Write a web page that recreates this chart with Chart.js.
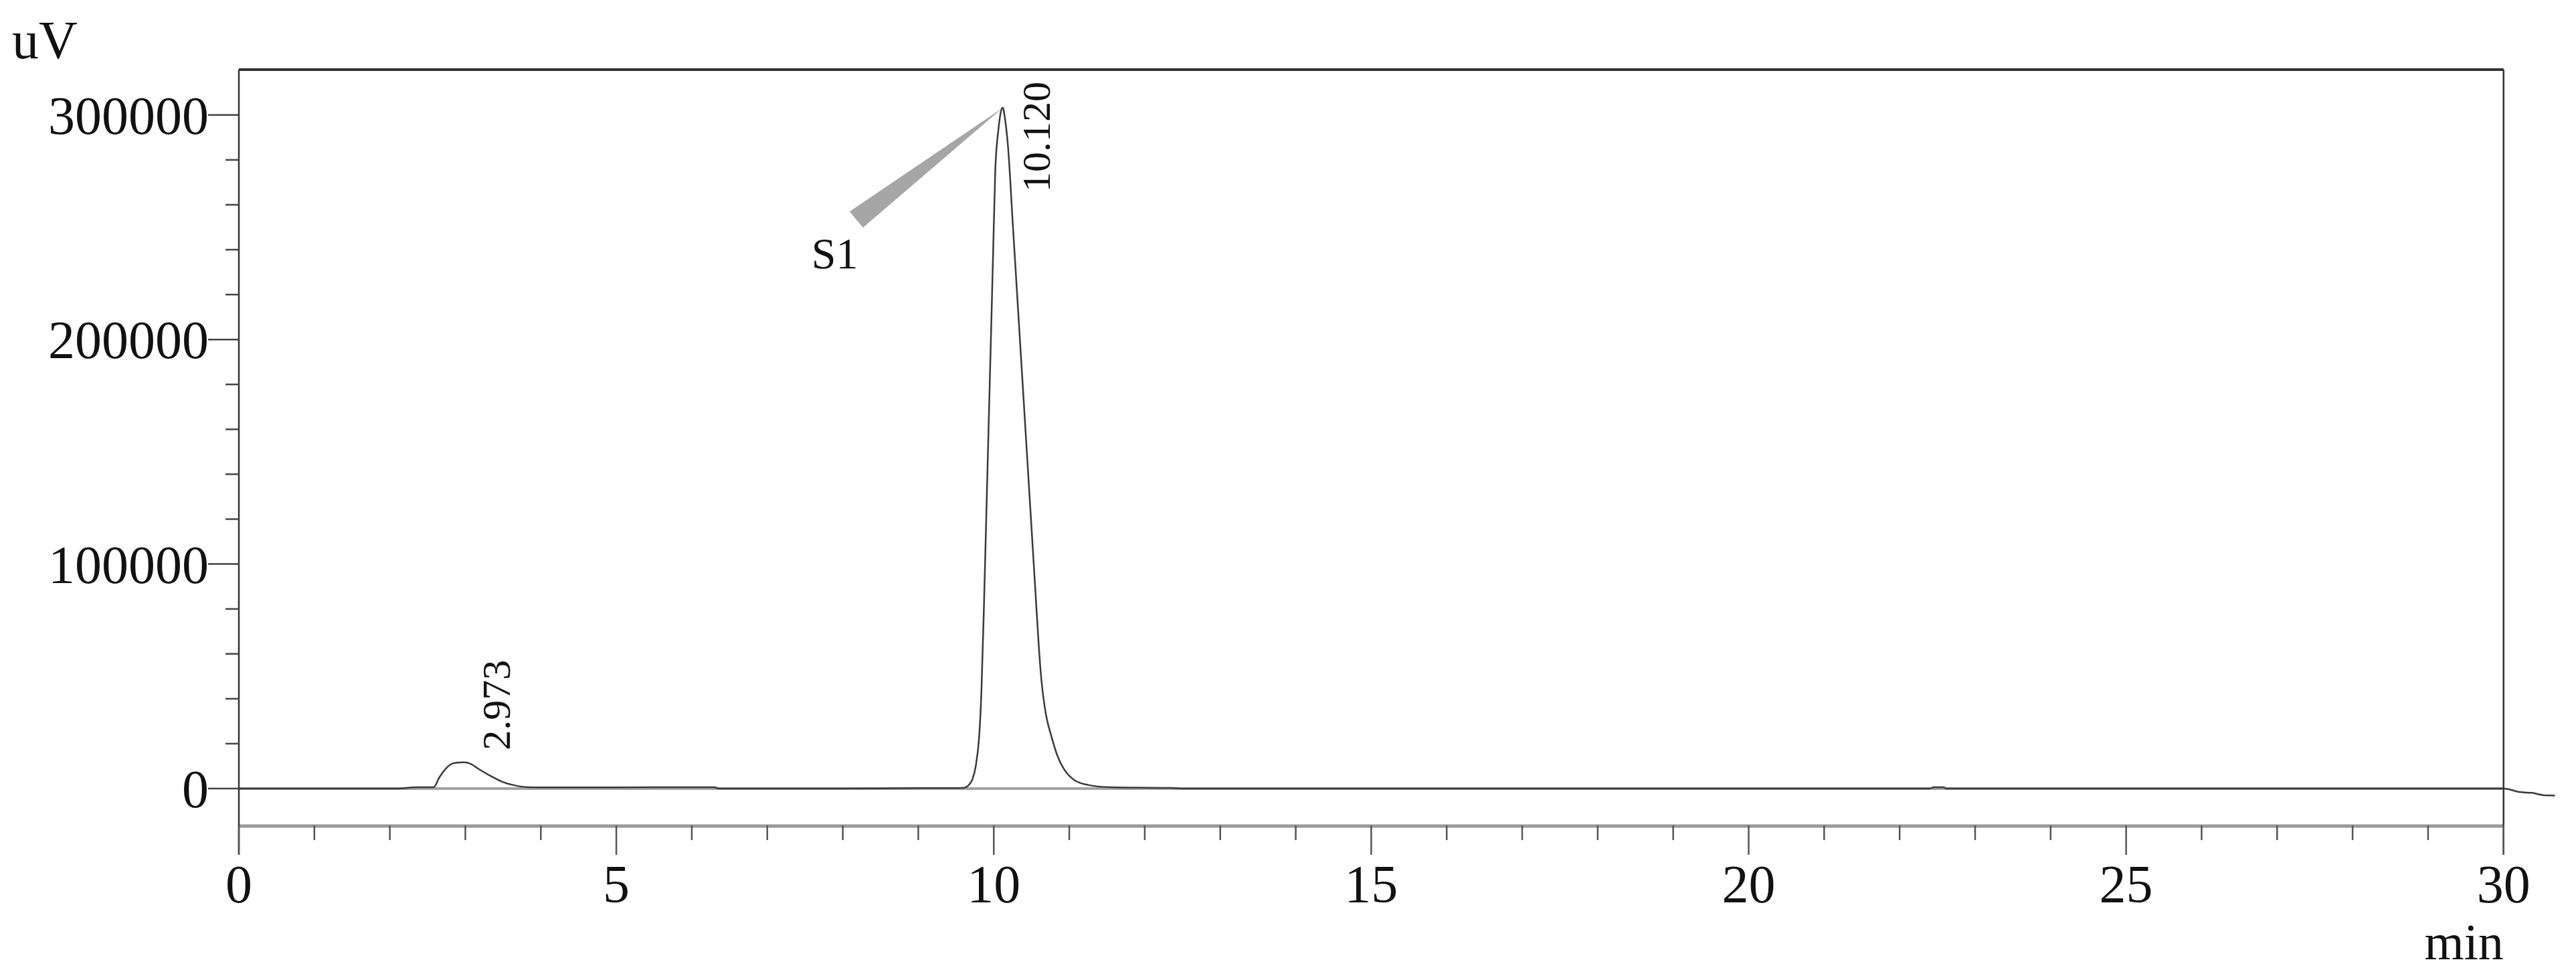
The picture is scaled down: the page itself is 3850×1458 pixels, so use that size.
<!DOCTYPE html>
<html>
<head>
<meta charset="utf-8">
<script src="https://cdn.jsdelivr.net/npm/chart.js@4.4.1/dist/chart.umd.min.js"></script>
<style>
  html, body { margin: 0; padding: 0; background: #fff; }
  #wrap { width: 3850px; height: 1458px; }
</style>
</head>
<body>
<div id="wrap"><canvas id="chrom" width="3850" height="1458"></canvas></div>
<script>
// Retention time (min) and detector signal (uV)
const times = [
    0, 1.0, 2.09, 2.36, 2.58, 2.656, 2.745, 2.834, 2.98, 3.07, 3.187, 3.335, 3.483, 3.631, 3.838, 4.34,
    5.5, 6.30, 6.36, 8.0, 9.0, 9.60, 9.658, 9.718, 9.762, 9.806, 9.836, 9.871, 9.90, 9.93, 9.96,
    9.99, 10.02, 10.06, 10.10, 10.12, 10.13, 10.19, 10.25, 10.30, 10.35, 10.40, 10.45, 10.50,
    10.55, 10.598, 10.633, 10.692, 10.766, 10.84, 10.943,
    11.076, 11.25, 11.55, 12.35, 12.5, 22.4, 22.45, 22.58, 22.62, 30.0, 30.22, 30.37, 30.52, 30.68
];
const signal = [
    0, 0, 0, 600, 600, 5000, 9000, 11200, 11700, 11000, 8500, 5600, 3100, 1600, 600, 500,
    600, 600, 0, 0, 200, 300, 1200, 4200, 10100, 22900, 42900, 82600, 120000, 159000, 197500,
    236500, 275400, 293000, 302300, 303200, 302300, 285400, 252600, 225300, 198000, 170700, 143400, 116100,
    88800, 62600, 47700, 32800, 23000, 14900, 8000,
    3600, 1600, 600, 300, 0, 0, 600, 600, 0, 0, -1600, -1900, -2900, -3100
];

// Axis ticks
const xMajorTicks = [0, 5, 10, 15, 20, 25, 30];
const xMinorStep = 1;
const yMajorTicks = [0, 100000, 200000, 300000];
const yMinorStep = 20000;

// Peak annotations
const peakTimes = [2.973, 10.120];
const peakHeights = [11700, 303200];
const peakLabels = ['2.973', '10.120'];
const peakNames = ['', 'S1'];

const FONT = '"Liberation Serif", "Times New Roman", serif';

const points = times.map((t, i) => ({ x: t, y: signal[i] }));

const framePlugin = {
    id: 'chromFrame',
    beforeDatasetsDraw(chart) {
        const { ctx, chartArea, scales } = chart;
        const y0 = scales.y.getPixelForValue(0);
        const xEnd = scales.x.getPixelForValue(xMajorTicks[xMajorTicks.length - 1]);
        ctx.save();
        ctx.strokeStyle = '#a3a3a3';
        ctx.lineWidth = 4;
        ctx.beginPath();
        ctx.moveTo(chartArea.left, y0);
        ctx.lineTo(xEnd, y0);
        ctx.stroke();
        ctx.restore();
    },
    afterDraw(chart) {
        const { ctx, chartArea, scales } = chart;
        const xs = scales.x, ys = scales.y;
        const xFirst = xMajorTicks[0], xLast = xMajorTicks[xMajorTicks.length - 1];
        const left = xs.getPixelForValue(xFirst);
        const right = xs.getPixelForValue(xLast);
        const { top, bottom } = chartArea;
        ctx.save();

        // bottom axis
        ctx.strokeStyle = '#9a9a9a';
        ctx.lineWidth = 5;
        ctx.beginPath();
        ctx.moveTo(left, bottom + 1);
        ctx.lineTo(right, bottom + 1);
        ctx.stroke();

        // top frame
        ctx.strokeStyle = '#333';
        ctx.lineWidth = 4;
        ctx.beginPath();
        ctx.moveTo(left, top);
        ctx.lineTo(right, top);
        ctx.stroke();

        // side axes (reach down as the 0 and 30 major ticks)
        ctx.lineWidth = 2.5;
        ctx.beginPath();
        ctx.moveTo(left, top);
        ctx.lineTo(left, bottom + 44);
        ctx.moveTo(right, top);
        ctx.lineTo(right, bottom + 44);
        ctx.stroke();

        // x ticks
        ctx.strokeStyle = '#555';
        ctx.lineWidth = 2.5;
        for (let t = xFirst; t <= xLast; t += xMinorStep) {
            const px = xs.getPixelForValue(t);
            const len = xMajorTicks.includes(t) ? 44 : 22;
            ctx.beginPath();
            ctx.moveTo(px, bottom);
            ctx.lineTo(px, bottom + len);
            ctx.stroke();
        }
        ctx.fillStyle = '#111';
        ctx.font = '80px ' + FONT;
        ctx.textAlign = 'center';
        ctx.textBaseline = 'alphabetic';
        xMajorTicks.forEach(t => {
            ctx.fillText(String(t), xs.getPixelForValue(t), bottom + 115);
        });
        ctx.font = '76px ' + FONT;
        ctx.textAlign = 'right';
        ctx.fillText('min', right, bottom + 200);

        // y ticks
        ctx.strokeStyle = '#444';
        for (let v = 0; v <= yMajorTicks[yMajorTicks.length - 1]; v += yMinorStep) {
            const py = ys.getPixelForValue(v);
            const len = yMajorTicks.includes(v) ? 46 : 20;
            ctx.beginPath();
            ctx.moveTo(left - len, py);
            ctx.lineTo(left, py);
            ctx.stroke();
        }
        ctx.font = '80px ' + FONT;
        ctx.textAlign = 'right';
        yMajorTicks.forEach(v => {
            ctx.fillText(String(v), left - 45, ys.getPixelForValue(v) + 28);
        });
        ctx.textAlign = 'left';
        ctx.fillText('uV', 18, 87);

        // peak annotations
        peakTimes.forEach((t, i) => {
            const px = xs.getPixelForValue(t);
            const py = ys.getPixelForValue(peakHeights[i]);
            ctx.font = '60px ' + FONT;
            const len = ctx.measureText(peakLabels[i]).width;
            const startY = Math.max(py - 18, top + 18 + len);
            ctx.save();
            ctx.translate(px + 70, startY);
            ctx.rotate(-Math.PI / 2);
            ctx.textAlign = 'left';
            ctx.textBaseline = 'alphabetic';
            ctx.fillStyle = '#111';
            ctx.fillText(peakLabels[i], 0, 0);
            ctx.restore();

            if (peakNames[i]) {
                ctx.fillStyle = '#a6a6a6';
                ctx.beginPath();
                ctx.moveTo(px, py);
                ctx.lineTo(px - 229, py + 155);
                ctx.lineTo(px - 209, py + 179);
                ctx.closePath();
                ctx.fill();
                ctx.fillStyle = '#111';
                ctx.font = '66px ' + FONT;
                ctx.textAlign = 'left';
                ctx.fillText(peakNames[i], px - 286, py + 240);
            }
        });

        ctx.restore();
    }
};

new Chart(document.getElementById('chrom').getContext('2d'), {
    type: 'line',
    data: {
        datasets: [{
            data: points,
            borderColor: '#3a3a3a',
            borderWidth: 2.5,
            pointRadius: 0,
            fill: false,
            cubicInterpolationMode: 'monotone'
        }]
    },
    options: {
        responsive: false,
        animation: false,
        devicePixelRatio: 1,
        // plot spans 0..30 min over x = 357..3742 px; the extra 0.8 min leaves room for the run-out trace
        layout: { padding: { left: 357, right: 18, top: 104, bottom: 225 } },
        plugins: { legend: { display: false }, tooltip: { enabled: false } },
        scales: {
            x: { type: 'linear', min: 0, max: 30.8, display: false },
            y: { type: 'linear', min: -16400, max: 320200, display: false }
        }
    },
    plugins: [framePlugin]
});
</script>
</body>
</html>
